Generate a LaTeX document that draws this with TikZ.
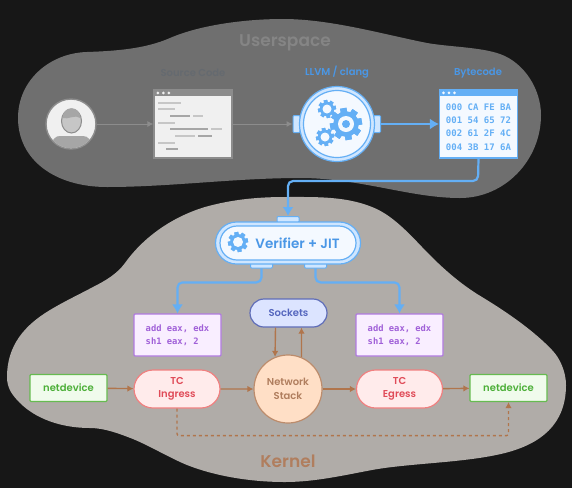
\documentclass[tikz,border=0pt]{standalone}
\usepackage{fontspec}
\setsansfont{Poppins}[BoldFont={Poppins SemiBold}]
\setmonofont{DejaVu Sans Mono}
\usetikzlibrary{calc,arrows.meta,positioning,shapes.misc}
\definecolor{bgdark}{HTML}{171717}
\definecolor{userblob}{HTML}{6F6F6F}
\definecolor{kernblob}{HTML}{B0ACA8}
\definecolor{usertxt}{HTML}{858585}
\definecolor{srctxt}{HTML}{656A70}
\definecolor{flowgray}{HTML}{8C8C8C}
\definecolor{paper}{HTML}{F0F0F0}
\definecolor{lnlight}{HTML}{C6C6C6}
\definecolor{lndark}{HTML}{A6A6A6}
\definecolor{ebpf}{HTML}{64AFF5}
\definecolor{ebpftxt}{HTML}{4A97E6}
\definecolor{ebpffill}{HTML}{F4F9FF}
\definecolor{ebpfmid}{HTML}{CFE6FF}
\definecolor{brownln}{HTML}{B0754C}
\definecolor{kerntxt}{HTML}{B07E5E}
\definecolor{purpleln}{HTML}{B07AE0}
\definecolor{purpletxt}{HTML}{A060D8}
\definecolor{purplefill}{HTML}{F9EEFF}
\definecolor{sockln}{HTML}{5F6DB8}
\definecolor{socktxt}{HTML}{5566BE}
\definecolor{sockfill}{HTML}{DCE4FF}
\definecolor{stackfill}{HTML}{FFDFC6}
\definecolor{stackln}{HTML}{BC8C6C}
\definecolor{tcln}{HTML}{F08080}
\definecolor{tctxt}{HTML}{E04B58}
\definecolor{tcfill}{HTML}{FFEBEB}
\definecolor{netln}{HTML}{66BB50}
\definecolor{nettxt}{HTML}{4CAF38}
\definecolor{netfill}{HTML}{F0FBEC}
\tikzset{
  title/.style={font=\sffamily\bfseries\fontsize{17}{20}\selectfont},
  caption/.style={font=\sffamily\bfseries\fontsize{10}{12}\selectfont},
  window/.style={draw,rectangle,line width=1.2pt,minimum width=78pt,minimum height=68pt,inner sep=0pt},
  codebox/.style={draw=purpleln,fill=purplefill,rounded corners=1pt,line width=1.2pt,minimum width=87pt,minimum height=42pt,
    text=purpletxt,font=\ttfamily\bfseries\fontsize{8.8}{13.2}\selectfont,align=left,inner sep=0pt},
  tcbox/.style={draw=tcln,fill=tcfill,rounded rectangle,line width=1.2pt,minimum width=86pt,minimum height=38pt,
    text=tctxt,font=\sffamily\bfseries\fontsize{10}{13}\selectfont,align=center,inner sep=0pt},
  netbox/.style={draw=netln,fill=netfill,rounded corners=1pt,line width=1.2pt,minimum width=77pt,minimum height=27pt,
    text=nettxt,font=\sffamily\bfseries\fontsize{10}{12}\selectfont,inner sep=0pt},
  tabbox/.style={draw=ebpf,fill=ebpfmid,rounded corners=1pt,line width=1pt,inner sep=0pt},
  flowuser/.style={flowgray,line width=1pt,-{Latex[length=6pt,width=6pt]}},
  flowebpf/.style={ebpf,line width=2.2pt,rounded corners=5pt,-{Latex[length=9pt,width=11pt]}},
  flowkern/.style={brownln,line width=1.4pt,-{Latex[length=6pt,width=6.5pt]}},
}
% gear: x, y, radius
\newcommand{\gearicon}[3]{%
  \foreach \ang in {0,45,...,315}
    \fill[ebpf,rotate around={\ang+10:(#1,#2)}] ($(#1,#2)+(-0.2*#3,-#3)$) rectangle ($(#1,#2)+(0.2*#3,#3)$);
  \fill[ebpf] (#1,#2) circle[radius=0.8*#3];
  \fill[ebpffill] (#1,#2) circle[radius=0.5*#3];
}
\begin{document}
\begin{tikzpicture}[x=1pt,y=-1pt]
\useasboundingbox (0,0) rectangle (572,488);
\fill[bgdark] (0,0) rectangle (572,488);
% the two regions
\fill[userblob] (18,118) .. controls (18,80) and (50,53) .. (87,52)
  .. controls (115,51) and (145,49) .. (170,38) .. controls (200,25) and (245,19) .. (283,19)
  .. controls (330,19) and (382,34) .. (427,43) .. controls (450,47) and (480,47) .. (500,54)
  .. controls (525,63) and (541,90) .. (541,115) .. controls (541,160) and (505,198) .. (460,198)
  .. controls (410,198) and (360,178) .. (300,178) .. controls (235,178) and (170,187) .. (107,187)
  .. controls (55,187) and (18,160) .. (18,118) -- cycle;
\fill[kernblob] (7,377) .. controls (7,345) and (25,325) .. (50,310)
  .. controls (65,301) and (80,294) .. (93,287) .. controls (105,281) and (117,274) .. (125,263)
  .. controls (145,235) and (175,216) .. (205,207) .. controls (230,200) and (255,197) .. (285,197)
  .. controls (315,197) and (345,196) .. (372,207) .. controls (390,214) and (405,229) .. (422,247)
  .. controls (440,266) and (460,284) .. (482,297) .. controls (510,314) and (535,332) .. (552,350)
  .. controls (560,358) and (566,372) .. (566,385) .. controls (566,425) and (540,444) .. (505,453)
  .. controls (465,463) and (410,463) .. (372,470) .. controls (345,475) and (315,482) .. (285,482)
  .. controls (250,482) and (215,476) .. (187,465) .. controls (170,458) and (150,446) .. (133,439)
  .. controls (120,434) and (105,428) .. (90,428) .. controls (60,428) and (35,418) .. (20,403)
  .. controls (12,395) and (7,388) .. (7,377) -- cycle;
\node[title,text=usertxt] (userlabel) at (285,42.5) {Userspace};
\node[title,text=kerntxt] (kernlabel) at (288,461) {Kernel};
\node[caption,text=srctxt] (srclabel) at (193,73) {Source Code};
\node[caption,text=ebpftxt] (llvmlabel) at (337,72) {LLVM / clang};
\node[caption,text=ebpftxt] (bytelabel) at (478,73.5) {Bytecode};
% user
\node[circle,draw=flowgray,fill=paper,line width=1.4pt,minimum size=50pt,inner sep=0pt] (user) at (71,124) {};
\begin{scope}
  \clip (user.center) circle[radius=24.3];
  \fill[lndark] (50,150) .. controls (52,138) and (56,136) .. (60,136) -- (83,136) .. controls (88,136) and (92,140) .. (93,150) -- cycle;
\end{scope}
\draw[flowgray,fill=lnlight,line width=1pt] (71.5,121) ellipse[x radius=10,y radius=12];
\fill[lndark] (62.5,118) .. controls (63,105) and (80,105) .. (80.5,118) .. controls (75,114) and (68,120) .. (62.5,118) -- cycle;
% source code window
\node[window,draw=flowgray,fill=paper] (srcwin) at (193,124) {};
\fill[flowgray] (srcwin.north west) rectangle ($(srcwin.north east)+(0,7)$);
\foreach \dotx in {4.5,10,15.5}
  \fill[paper] ($(srcwin.north west)+(\dotx,3.5)$) circle[radius=1.5];
\foreach \xa/\xb/\yy/\cc in {158/181/103/lnlight,158/175/109/lnlight,170/190/116/lndark,193/203/116/lnlight,
    158/175/123/lnlight,170/208/129/lndark,211/222/129/lnlight,175/195/136/lnlight,198/212/136/lndark,
    158/175/143/lnlight,166/178/149/lndark}
  \draw[\cc,line width=2.4pt] (\xa,\yy) -- (\xb,\yy);
% compiler
\node[tabbox,minimum width=7pt,minimum height=17pt] (comptabl) at (296.5,124) {};
\node[tabbox,minimum width=7pt,minimum height=17pt] (comptabr) at (377,124) {};
\node[circle,draw=ebpf,fill=ebpfmid,line width=1.2pt,minimum size=75pt,inner sep=0pt] (compiler) at (337,124) {};
\draw[ebpf,fill=ebpffill,line width=1.2pt] (compiler.center) circle[radius=33.5];
\gearicon{346}{124}{16}
\fill[ebpf] (346,124) circle[radius=4];
\gearicon{327}{109}{9}
\gearicon{325}{137}{9}
% bytecode window
\node[window,draw=ebpf,fill=ebpffill] (bytewin) at (478.5,124) {};
\fill[ebpf] (bytewin.north west) rectangle ($(bytewin.north east)+(0,7)$);
\foreach \dotx in {4.5,10,15.5}
  \fill[ebpffill] ($(bytewin.north west)+(\dotx,3.5)$) circle[radius=1.5];
\node[text=ebpf,font=\ttfamily\bfseries\fontsize{9}{13.3}\selectfont,align=left,inner sep=0pt] (bytetext) at (478.5,127)
  {000 CA FE BA\\001 54 65 72\\002 61 2F 4C\\004 3B 17 6A};
% verifier
\node[tabbox,minimum width=22pt,minimum height=6pt] (vertabt) at (288,219.5) {};
\node[tabbox,minimum width=22pt,minimum height=6pt] (vertabl) at (261.5,265) {};
\node[tabbox,minimum width=22pt,minimum height=6pt] (vertabr) at (315.5,265) {};
\node[draw=ebpf,fill=ebpfmid,rounded rectangle,line width=1.2pt,minimum width=145pt,minimum height=42pt,inner sep=0pt] (verifier) at (288,243) {};
\node[draw=ebpf,fill=ebpffill,rounded rectangle,line width=1.2pt,minimum width=136pt,minimum height=34pt,inner sep=0pt,
  text=ebpftxt,font=\sffamily\bfseries\fontsize{13.5}{16}\selectfont] (verifiertxt) at (288,243) {\hspace*{19pt}Verifier + JIT};
\gearicon{238}{242}{10}
% programs and kernel path
\node[codebox] (progl) at (177.5,335) {add eax, edx\\sh1 eax, 2};
\node[codebox] (progr) at (399.5,335) {add eax, edx\\sh1 eax, 2};
\node[draw=sockln,fill=sockfill,rounded rectangle,line width=1.2pt,minimum width=77pt,minimum height=28pt,inner sep=0pt,
  text=socktxt,font=\sffamily\bfseries\fontsize{10}{12}\selectfont] (sockets) at (288.5,313) {Sockets};
\node[circle,draw=stackln,fill=stackfill,line width=1.2pt,minimum size=68pt,inner sep=0pt,align=center,
  text=kerntxt,font=\sffamily\bfseries\fontsize{10}{13.5}\selectfont] (stack) at (288,389) {Network\\Stack};
\node[tcbox] (ingress) at (177,389) {TC\\Ingress};
\node[tcbox] (egress) at (399.5,389) {TC\\Egress};
\node[netbox] (netl) at (68.5,388) {netdevice};
\node[netbox] (netr) at (508.5,388) {netdevice};
\coordinate (dashl) at ($(ingress.south)+(0,27)$);
\coordinate (dashr) at (netr.south |- dashl);
\coordinate (bytebend) at (478,181);
\coordinate (verbend) at (288,181);
% connectors
\draw[flowuser] (user) -- (srcwin);
\draw[flowuser] (srcwin) -- (comptabl);
\draw[ebpf,line width=2.2pt,-{Latex[length=9pt,width=11pt]}] (comptabr) -- (bytewin);
\draw[flowebpf] (bytewin.south) -- (bytebend) -- (verbend) -- (vertabt.north);
\draw[flowebpf] (vertabl.south) |- ($(progl.north)+(0,-31)$) -- (progl.north);
\draw[flowebpf] (vertabr.south) |- ($(progr.north)+(0,-31)$) -- (progr.north);
\draw[flowkern] ([xshift=-13pt]sockets.south) -- (stack.112.5);
\draw[flowkern] (stack.67.5) -- ([xshift=13pt]sockets.south);
\draw[flowkern] (netl) -- (ingress);
\draw[flowkern] (ingress) -- (stack);
\draw[flowkern] (stack) -- (egress);
\draw[flowkern] (egress) -- (netr);
\draw[flowkern,dashed,rounded corners=2pt] (ingress.south) -- (dashl) -- (dashr) -- (netr.south);
\end{tikzpicture}
\end{document}
